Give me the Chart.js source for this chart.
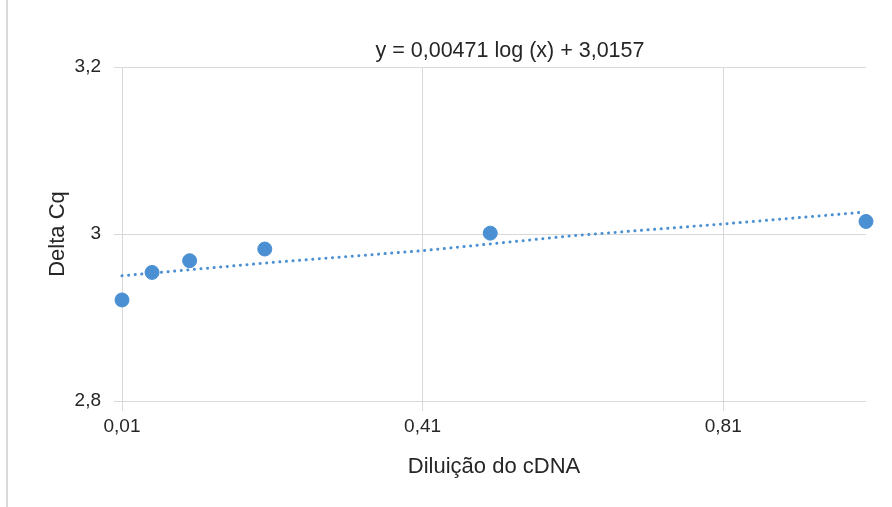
<!DOCTYPE html>
<html>
<head>
<meta charset="utf-8">
<script src="https://cdn.jsdelivr.net/npm/chart.js@4.4.1/dist/chart.umd.min.js"></script>
<style>
    html, body { margin: 0; padding: 0; background: #fff; }
    #wrap { position: relative; width: 892px; height: 507px; }
    #wrap::before { content: ''; position: absolute; left: 6px; top: 0; bottom: 0; width: 2px; background: #d9d9d9; }
    canvas { display: block; }
</style>
</head>
<body>
<div id="wrap"><canvas id="chart" width="892" height="507"></canvas></div>
<script>
// Diluições (eixo x) e Delta Cq medido
const dilutions = [0.01, 0.05, 0.1, 0.2, 0.5, 1];
const deltaCq = [2.921, 2.954, 2.968, 2.982, 3.001, 3.015];

// Linha de tendência
const trendX = [0.01, 0.21, 0.41, 0.61, 0.81, 0.995];
const trendY = [2.950, 2.966, 2.980, 2.998, 3.012, 3.026];

const xTicks = [0.01, 0.41, 0.81];
const xTickLabels = ['0,01', '0,41', '0,81'];
const yTicks = [2.8, 3.0, 3.2];
const yTickLabels = ['2,8', '3', '3,2'];

const equationText = 'y = 0,00471 log (x) + 3,0157';

const blue = '#4a90d2';
const grid = '#d9d9d9';
const textColor = '#262626';
const font = 'Liberation Sans, Arial, sans-serif';

const equationLabel = {
    id: 'equationLabel',
    afterDraw(chart) {
        const { ctx, chartArea } = chart;
        ctx.save();
        ctx.font = '21.5px ' + font;
        ctx.fillStyle = textColor;
        ctx.textAlign = 'center';
        ctx.textBaseline = 'middle';
        const cx = chartArea.left + (chartArea.right - chartArea.left) * 0.5215;
        ctx.fillText(equationText, cx, chartArea.top - 16);
        ctx.restore();
    }
};

new Chart(document.getElementById('chart'), {
    type: 'scatter',
    data: {
        datasets: [{
            label: 'Tendência',
            data: trendX.map((x, i) => ({ x: x, y: trendY[i] })),
            showLine: true,
            borderColor: blue,
            borderWidth: 3,
            borderDash: [0.1, 6.5],
            borderCapStyle: 'round',
            pointRadius: 0,
            tension: 0,
            clip: false,
            order: 2
        }, {
            label: 'Delta Cq',
            data: dilutions.map((x, i) => ({ x: x, y: deltaCq[i] })),
            backgroundColor: blue,
            borderColor: blue,
            pointRadius: 7,
            pointHoverRadius: 7,
            clip: false,
            order: 1
        }]
    },
    options: {
        responsive: false,
        animation: false,
        layout: { padding: { left: 0, right: 26, top: 67, bottom: 0 } },
        plugins: {
            legend: { display: false },
            tooltip: { enabled: false }
        },
        scales: {
            x: {
                type: 'linear',
                min: 0.01,
                max: 1.0,
                afterBuildTicks: axis => { axis.ticks = xTicks.map(v => ({ value: v })); },
                afterFit: axis => { axis.height = 106; },
                grid: { color: grid, lineWidth: 1, tickLength: 10, drawTicks: true },
                border: { display: false },
                ticks: {
                    color: textColor,
                    font: { family: font, size: 19 },
                    padding: 4,
                    maxRotation: 0,
                    callback: v => xTickLabels[xTicks.indexOf(v)]
                },
                title: {
                    display: true,
                    text: 'Diluição do cDNA',
                    color: textColor,
                    font: { family: font, size: 22 },
                    padding: { top: 0, bottom: 27 }
                }
            },
            y: {
                min: 2.8,
                max: 3.2,
                afterBuildTicks: axis => { axis.ticks = yTicks.map(v => ({ value: v })); },
                afterFit: axis => { axis.width = 122; },
                grid: { color: grid, lineWidth: 1, tickLength: 8, drawTicks: true },
                border: { display: false },
                ticks: {
                    color: textColor,
                    font: { family: font, size: 19 },
                    padding: 13,
                    callback: v => yTickLabels[yTicks.findIndex(t => Math.abs(t - v) < 1e-9)]
                },
                title: {
                    display: true,
                    text: 'Delta Cq',
                    color: textColor,
                    font: { family: font, size: 22 },
                    padding: { top: 45, bottom: 0 }
                }
            }
        }
    },
    plugins: [equationLabel]
});
</script>
</body>
</html>
